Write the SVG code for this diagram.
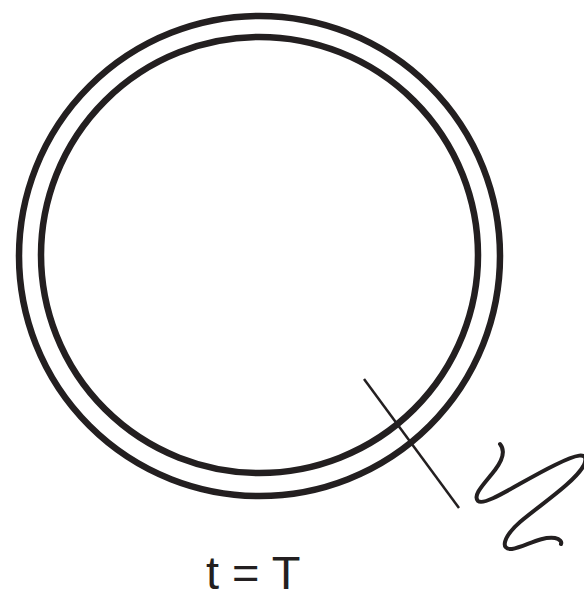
<svg xmlns="http://www.w3.org/2000/svg" width="584" height="595" viewBox="0 0 584 595">
<style>
.ring{fill:none;stroke:#231f20;stroke-width:6.5}
.thin{fill:none;stroke:#231f20;stroke-width:2.5}
.sq{fill:none;stroke:#231f20;stroke-width:4;stroke-linecap:round;stroke-linejoin:round}
.lbl{font-family:"Liberation Sans",Arial,sans-serif;font-size:47px;fill:#231f20}
</style>
<rect width="584" height="595" fill="#fff"/>
<g id="outer-ring"><ellipse class="ring" cx="259.5" cy="256" rx="240.5" ry="240"/></g>
<g id="inner-ring"><ellipse class="ring" cx="259.5" cy="255" rx="218.5" ry="218"/></g>
<g id="connectors">
<line class="thin" x1="364" y1="379" x2="459" y2="508"/>
<path class="sq" d="M500,444 C505,450 504,458 495,470 C485,483 472,495 478,501 C485,507 520,482 555,465 C575,455 590,450 584,465 C575,482 540,505 520,522 C503,537 500,550 512,549 C525,547 540,536 555,538 C560,539 562,542 561,544"/>
</g>
<g id="label"><text class="lbl" x="206" y="589">t = T</text></g>
</svg>
